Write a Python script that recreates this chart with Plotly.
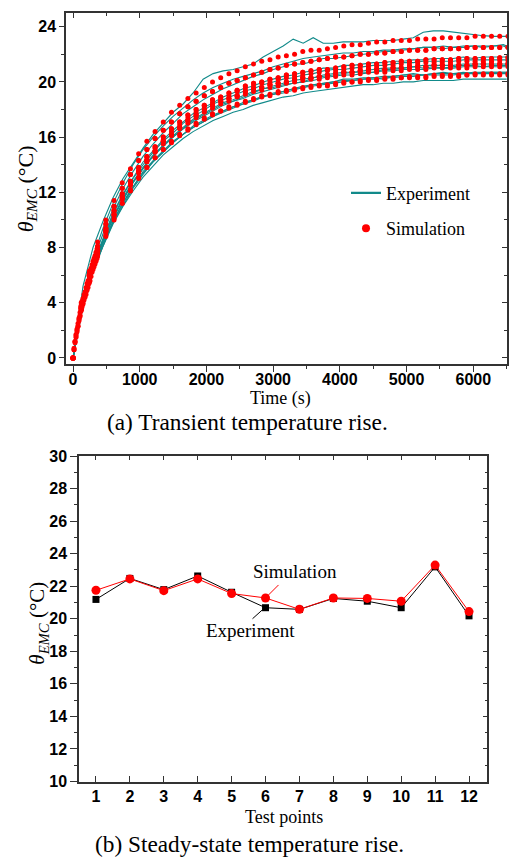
import plotly.graph_objects as go

# ---------------- data: (a) transient temperature rise ----------------
sim_times = list(range(0, 6520, 123))
early_times = list(range(0, 361, 15))
exp_times = list(range(0, 6451, 150)) + [6500]

sim_233 = [0, 4.0, 6.3, 8.4, 10.0, 11.4, 12.7, 13.7, 14.8, 15.7, 16.4, 17.1, 17.8, 18.3, 18.8, 19.2, 19.6, 20.0, 20.3, 20.6,
           20.8, 21.1, 21.3, 21.5, 21.6, 21.8, 21.9, 22.0, 22.2, 22.3, 22.3, 22.4, 22.5, 22.6, 22.7, 22.7, 22.8, 22.9, 22.9, 23.0,
           23.0, 23.0, 23.1, 23.1, 23.1, 23.2, 23.2, 23.2, 23.2, 23.3, 23.3, 23.3, 23.3, 23.3]
sim_225 = [0, 3.8, 6.1, 8.1, 9.7, 11.0, 12.3, 13.3, 14.3, 15.1, 15.9, 16.5, 17.1, 17.7, 18.2, 18.6, 19.0, 19.3, 19.6, 19.9,
           20.1, 20.3, 20.5, 20.7, 20.9, 21.0, 21.2, 21.3, 21.4, 21.5, 21.6, 21.7, 21.8, 21.8, 21.9, 22.0, 22.0, 22.1, 22.1, 22.2,
           22.2, 22.3, 22.3, 22.3, 22.4, 22.4, 22.4, 22.4, 22.5, 22.5, 22.5, 22.5, 22.5, 22.5]
sim_2175 = [0, 3.7, 5.9, 7.8, 9.4, 10.7, 11.9, 12.8, 13.8, 14.6, 15.3, 16.0, 16.6, 17.1, 17.6, 18.0, 18.3, 18.7, 18.9, 19.2,
            19.4, 19.7, 19.9, 20.0, 20.2, 20.3, 20.5, 20.6, 20.7, 20.8, 20.9, 20.9, 21.0, 21.1, 21.2, 21.2, 21.3, 21.3, 21.4, 21.4,
            21.5, 21.5, 21.5, 21.6, 21.6, 21.6, 21.6, 21.7, 21.7, 21.7, 21.7, 21.7, 21.75, 21.75]
sim_2155 = [0, 3.7, 5.8, 7.8, 9.3, 10.6, 11.7, 12.7, 13.7, 14.5, 15.2, 15.8, 16.4, 16.9, 17.4, 17.8, 18.2, 18.5, 18.8, 19.0,
            19.3, 19.5, 19.7, 19.9, 20.0, 20.2, 20.3, 20.4, 20.5, 20.6, 20.7, 20.8, 20.8, 20.9, 21.0, 21.0, 21.1, 21.1, 21.2, 21.2,
            21.3, 21.3, 21.3, 21.4, 21.4, 21.4, 21.4, 21.5, 21.5, 21.5, 21.5, 21.5, 21.55, 21.55]
sim_213 = [0, 3.6, 5.8, 7.7, 9.2, 10.4, 11.6, 12.6, 13.5, 14.3, 15.0, 15.7, 16.2, 16.7, 17.2, 17.6, 18.0, 18.3, 18.6, 18.8,
           19.0, 19.3, 19.5, 19.6, 19.8, 19.9, 20.0, 20.2, 20.3, 20.3, 20.4, 20.5, 20.6, 20.7, 20.7, 20.8, 20.9, 20.9, 20.9, 21.0,
           21.0, 21.1, 21.1, 21.1, 21.2, 21.2, 21.2, 21.2, 21.2, 21.3, 21.3, 21.3, 21.3, 21.3]
sim_211 = [0, 3.6, 5.7, 7.6, 9.1, 10.3, 11.5, 12.5, 13.4, 14.2, 14.9, 15.5, 16.1, 16.6, 17.0, 17.4, 17.8, 18.1, 18.4, 18.6,
           18.9, 19.1, 19.3, 19.4, 19.6, 19.7, 19.9, 20.0, 20.1, 20.2, 20.2, 20.3, 20.4, 20.5, 20.5, 20.6, 20.7, 20.7, 20.7, 20.8,
           20.8, 20.9, 20.9, 20.9, 21.0, 21.0, 21.0, 21.0, 21.0, 21.1, 21.1, 21.1, 21.1, 21.1]
sim_206 = [0, 3.5, 5.6, 7.4, 8.9, 10.1, 11.2, 12.2, 13.1, 13.8, 14.5, 15.1, 15.7, 16.2, 16.6, 17.0, 17.4, 17.7, 17.9, 18.2,
           18.4, 18.6, 18.8, 19.0, 19.1, 19.3, 19.4, 19.5, 19.6, 19.7, 19.8, 19.8, 19.9, 20.0, 20.0, 20.1, 20.2, 20.2, 20.3, 20.3,
           20.3, 20.4, 20.4, 20.4, 20.5, 20.5, 20.5, 20.5, 20.5, 20.6, 20.6, 20.6, 20.6, 20.6]
sim_205 = [0, 3.5, 5.5, 7.4, 8.8, 10.0, 11.2, 12.1, 13.0, 13.8, 14.5, 15.1, 15.6, 16.1, 16.5, 16.9, 17.3, 17.6, 17.9, 18.1,
           18.3, 18.5, 18.7, 18.9, 19.0, 19.2, 19.3, 19.4, 19.5, 19.6, 19.7, 19.7, 19.8, 19.9, 20.0, 20.0, 20.1, 20.1, 20.2, 20.2,
           20.3, 20.3, 20.3, 20.3, 20.4, 20.4, 20.4, 20.4, 20.5, 20.5, 20.5, 20.5, 20.5, 20.5]
sim_curves = [sim_2175, sim_225, sim_2175, sim_225, sim_2155, sim_213,
              sim_206, sim_213, sim_213, sim_211, sim_233, sim_205]

# dense early simulation output (first 6 minutes)
early_hi = [0, 0.7, 1.2, 1.7, 2.1, 2.5, 2.9, 3.3, 3.7, 4.1, 4.3, 4.6, 4.8, 5.1, 5.4, 5.6, 6.0, 6.2, 6.5, 6.75,
            7.0, 7.2, 7.4, 7.65, 7.9]
early_mid = [0, 0.6, 1.2, 1.6, 2.0, 2.3, 2.8, 3.1, 3.5, 3.8, 4.0, 4.4, 4.6, 4.8, 5.1, 5.3, 5.6, 5.9, 6.2, 6.4,
             6.6, 6.8, 7.0, 7.2, 7.5]
early_lo = [0, 0.6, 1.1, 1.5, 1.9, 2.3, 2.7, 3.0, 3.4, 3.7, 3.9, 4.2, 4.4, 4.6, 4.9, 5.1, 5.4, 5.6, 5.9, 6.2,
            6.4, 6.6, 6.8, 7.0, 7.2]
early_curves = [early_hi, early_mid, early_lo]

exp_tp1 = [0, 4.0, 6.6, 8.5, 10.2, 11.5, 12.7, 13.8, 14.6, 15.4, 16.0, 16.6, 17.2, 17.6, 18.0, 18.4, 18.6, 18.9, 19.2, 19.5,
           19.6, 19.8, 19.9, 20.0, 20.3, 20.4, 20.5, 20.6, 20.7, 20.7, 20.7, 20.9, 20.9, 21.0, 21.1, 21.0, 21.1, 21.0, 21.1, 21.2,
           21.2, 21.1, 21.2, 21.2, 21.2]
exp_tp2 = [0, 4.3, 7.0, 9.0, 10.8, 12.3, 13.5, 14.6, 15.5, 16.3, 17.0, 17.7, 18.2, 18.7, 19.1, 19.5, 19.8, 20.1, 20.4, 20.6,
           20.9, 21.1, 21.3, 21.3, 21.5, 21.7, 21.7, 21.8, 21.9, 22.0, 22.1, 22.2, 22.2, 22.3, 22.4, 22.5, 22.5, 22.4, 22.5, 22.5,
           22.6, 22.5, 22.6, 22.6, 22.5]
exp_tp3 = [0, 4.1, 6.8, 8.7, 10.5, 11.9, 13.1, 14.2, 15.0, 15.8, 16.5, 17.1, 17.7, 18.1, 18.5, 18.9, 19.2, 19.5, 19.7, 20.0,
           20.2, 20.4, 20.5, 20.7, 20.8, 21.0, 21.0, 21.2, 21.2, 21.3, 21.4, 21.4, 21.5, 21.5, 21.6, 21.6, 21.7, 21.7, 21.7, 21.8,
           21.7, 21.8, 21.8, 21.8, 21.8]
exp_tp4 = [0, 4.5, 7.3, 9.4, 11.2, 12.7, 14.0, 15.1, 16.0, 16.8, 17.5, 18.1, 18.7, 19.2, 19.6, 19.9, 20.2, 20.4, 20.6, 20.8,
           21.1, 21.3, 21.5, 21.7, 21.8, 21.9, 22.0, 22.1, 22.1, 22.2, 22.2, 22.3, 22.3, 22.4, 22.4, 22.5, 22.5, 22.6, 22.5, 22.6,
           22.6, 22.6, 22.6, 22.7, 22.6]
exp_tp5 = [0, 4.1, 6.7, 8.6, 10.4, 11.8, 13.0, 14.0, 14.9, 15.7, 16.3, 17.0, 17.5, 17.9, 18.4, 18.7, 19.0, 19.3, 19.5, 19.8,
           20.0, 20.2, 20.3, 20.5, 20.6, 20.8, 20.9, 20.9, 21.0, 21.1, 21.2, 21.2, 21.3, 21.4, 21.4, 21.5, 21.5, 21.5, 21.5, 21.6,
           21.6, 21.6, 21.6, 21.6, 21.6]
exp_tp6 = [0, 3.9, 6.4, 8.3, 9.9, 11.3, 12.4, 13.5, 14.3, 15.0, 15.7, 16.2, 16.8, 17.2, 17.6, 17.9, 18.2, 18.5, 18.7, 18.9,
           19.2, 19.3, 19.5, 19.6, 19.8, 19.9, 20.0, 20.1, 20.1, 20.2, 20.3, 20.4, 20.4, 20.5, 20.5, 20.5, 20.6, 20.6, 20.6, 20.6,
           20.7, 20.7, 20.7, 20.7, 20.7]
exp_tp7 = [0, 3.9, 6.4, 8.2, 9.9, 11.2, 12.4, 13.4, 14.2, 14.9, 15.6, 16.2, 16.7, 17.1, 17.5, 17.8, 18.1, 18.4, 18.6, 18.9,
           19.1, 19.2, 19.4, 19.6, 19.7, 19.8, 19.9, 20.0, 20.1, 20.2, 20.2, 20.3, 20.3, 20.4, 20.4, 20.5, 20.5, 20.5, 20.5, 20.6,
           20.6, 20.6, 20.6, 20.6, 20.6]
exp_tp8 = [0, 4.0, 6.6, 8.5, 10.2, 11.6, 12.8, 13.8, 14.7, 15.4, 16.1, 16.7, 17.3, 17.7, 18.1, 18.5, 18.7, 19.0, 19.3, 19.5,
           19.7, 19.9, 20.1, 20.2, 20.3, 20.5, 20.6, 20.7, 20.7, 20.8, 20.9, 21.0, 21.0, 21.0, 21.1, 21.2, 21.2, 21.2, 21.2, 21.3,
           21.3, 21.3, 21.3, 21.3, 21.3]
exp_tp9 = [0, 4.0, 6.5, 8.4, 10.1, 11.5, 12.7, 13.7, 14.6, 15.3, 16.0, 16.6, 17.1, 17.5, 17.9, 18.3, 18.6, 18.8, 19.1, 19.3,
           19.5, 19.7, 19.9, 20.0, 20.1, 20.3, 20.4, 20.5, 20.5, 20.6, 20.7, 20.8, 20.8, 20.9, 20.9, 20.9, 21.0, 21.0, 21.0, 21.1,
           21.1, 21.1, 21.1, 21.1, 21.1]
exp_tp10 = [0, 3.7, 6.2, 8.1, 9.8, 11.1, 12.3, 13.3, 14.2, 14.9, 15.6, 16.2, 16.7, 17.1, 17.5, 17.9, 18.2, 18.4, 18.7, 19.0,
            19.1, 19.3, 19.5, 19.7, 19.8, 19.9, 20.0, 20.2, 20.2, 20.3, 20.3, 20.2, 20.4, 20.5, 20.6, 20.5, 20.6, 20.7, 20.6, 20.7,
            20.6, 20.7, 20.7, 20.7, 20.7]
exp_tp11 = [0, 5.2, 8.0, 9.9, 11.6, 13.0, 14.1, 15.2, 16.2, 17.0, 17.8, 18.4, 19.2, 20.2, 20.6, 20.8, 20.9, 21.1, 21.3, 21.8,
            22.2, 22.6, 23.1, 22.8, 23.2, 22.8, 22.8, 22.9, 22.9, 22.9, 23.0, 23.0, 23.0, 23.1, 23.2, 23.6, 23.7, 23.7, 23.6, 23.5,
            23.4, 23.35, 23.3, 23.3, 23.3]
exp_tp12 = [0, 3.8, 6.3, 8.1, 9.7, 11.0, 12.1, 13.1, 13.9, 14.7, 15.3, 15.9, 16.4, 16.8, 17.2, 17.5, 17.8, 18.0, 18.3, 18.5,
            18.7, 18.9, 19.0, 19.2, 19.3, 19.4, 19.5, 19.6, 19.7, 19.8, 19.8, 19.9, 19.9, 20.0, 20.0, 20.1, 20.1, 20.1, 20.1, 20.2,
            20.2, 20.2, 20.2, 20.2, 20.2]
exp_curves = [exp_tp1, exp_tp2, exp_tp3, exp_tp4, exp_tp5, exp_tp6,
              exp_tp7, exp_tp8, exp_tp9, exp_tp10, exp_tp11, exp_tp12]

# ---------------- data: (b) steady-state temperature rise ----------------
test_points = [1, 2, 3, 4, 5, 6, 7, 8, 9, 10, 11, 12]
steady_exp = [21.19, 22.48, 21.79, 22.63, 21.63, 20.68, 20.58, 21.25, 21.08, 20.68, 23.19, 20.18]
steady_sim = [21.75, 22.45, 21.73, 22.45, 21.55, 21.28, 20.58, 21.28, 21.25, 21.08, 23.30, 20.44]

TEAL = "#118a8a"
RED = "#ff0000"
AX = "#333333"
SANS = "Liberation Sans"
SERIF = "Liberation Serif"
W, H = 510, 867

fig = go.Figure()

for ys in exp_curves:
    fig.add_trace(go.Scatter(x=exp_times, y=ys, mode="lines", line=dict(color=TEAL, width=1.1),
                             showlegend=False, hoverinfo="skip", xaxis="x", yaxis="y"))
for ys in early_curves:
    fig.add_trace(go.Scatter(x=early_times, y=ys, mode="markers", marker=dict(color=RED, size=5),
                             showlegend=False, hoverinfo="skip", xaxis="x", yaxis="y"))
for ys in sim_curves:
    fig.add_trace(go.Scatter(x=sim_times, y=ys, mode="markers", marker=dict(color=RED, size=5),
                             showlegend=False, hoverinfo="skip", xaxis="x", yaxis="y"))
# legend entries
fig.add_trace(go.Scatter(x=[None], y=[None], mode="lines", line=dict(color=TEAL, width=2.2),
                         name="Experiment", legendgroup="e", xaxis="x", yaxis="y"))
fig.add_trace(go.Scatter(x=[None], y=[None], mode="markers", marker=dict(color=RED, size=8),
                         name="Simulation", legendgroup="s", xaxis="x", yaxis="y"))
# overlay axes carriers (no data)
fig.add_trace(go.Scatter(x=[], y=[], showlegend=False, xaxis="x3", yaxis="y3"))
fig.add_trace(go.Scatter(x=[], y=[], showlegend=False, xaxis="x4", yaxis="y4"))
fig.add_trace(go.Scatter(x=[], y=[], showlegend=False, xaxis="x5", yaxis="y"))

# bottom chart
fig.add_trace(go.Scatter(x=test_points, y=steady_exp, mode="lines+markers",
                         line=dict(color="black", width=1), marker=dict(symbol="square", size=7, color="black"),
                         showlegend=False, xaxis="x2", yaxis="y2"))
fig.add_trace(go.Scatter(x=test_points, y=steady_sim, mode="lines+markers",
                         line=dict(color=RED, width=1), marker=dict(symbol="circle", size=9, color=RED),
                         showlegend=False, xaxis="x2", yaxis="y2"))

tickfont = dict(family=SANS, size=16, color="black", weight="bold")

top_x = [66 / W, 507 / W]
top_y = [1 - 363 / H, 1 - 5 / H]
bot_x = [79 / W, 487 / W]
bot_y = [1 - 789 / H, 1 - 457 / H]

xr1 = [-105, 6505]
yr1 = [-0.43, 25.0]
xr2 = [0.5, 12.53]
yr2 = [10, 30]

common = dict(showgrid=False, zeroline=False, tickcolor=AX, tickwidth=1.3)

fig.update_layout(
    width=W, height=H, margin=dict(l=0, r=0, t=0, b=0),
    plot_bgcolor="white", paper_bgcolor="white",
    # labels only (ticks drawn by xaxis5 so the labels sit close to the axis)
    xaxis=dict(domain=top_x, anchor="y", range=xr1, tick0=0, dtick=1000, ticks="",
               showline=True, linecolor=AX, linewidth=1.5, mirror=True, tickfont=tickfont, **common),
    xaxis5=dict(overlaying="x", side="bottom", anchor="y", range=xr1, tick0=0, dtick=1000, ticks="outside", ticklen=7,
                minor=dict(dtick=500, ticks="outside", ticklen=4, tickcolor=AX, tickwidth=1.3),
                showticklabels=False, showline=False, **common),
    yaxis=dict(domain=top_y, anchor="x", range=yr1, tick0=0, dtick=4, ticks="outside", ticklen=5,
               minor=dict(dtick=2, ticks="outside", ticklen=3, tickcolor=AX, tickwidth=1.3),
               showline=True, linecolor=AX, linewidth=1.5, mirror=True, tickfont=tickfont, **common),
    xaxis3=dict(overlaying="x", side="top", anchor="y3", range=xr1, tick0=0, dtick=1000, ticks="inside", ticklen=5,
                minor=dict(dtick=500, ticks="inside", ticklen=3, tickcolor=AX, tickwidth=1.3),
                showticklabels=False, showline=False, **common),
    yaxis3=dict(overlaying="y", side="right", anchor="x3", range=yr1, tick0=0, dtick=4, ticks="inside", ticklen=5,
                minor=dict(dtick=2, ticks="inside", ticklen=3, tickcolor=AX, tickwidth=1.3),
                showticklabels=False, showline=False, **common),
    xaxis2=dict(domain=bot_x, anchor="y2", range=xr2, tick0=1, dtick=1, ticks="inside", ticklen=6,
                showline=True, linecolor=AX, linewidth=1.5, mirror=True, tickfont=tickfont, **common),
    yaxis2=dict(domain=bot_y, anchor="x2", range=yr2, tick0=10, dtick=2, ticks="outside", ticklen=7,
                minor=dict(dtick=1, ticks="outside", ticklen=3, tickcolor=AX, tickwidth=1.3),
                showline=True, linecolor=AX, linewidth=1.5, mirror=True, tickfont=tickfont, **common),
    xaxis4=dict(overlaying="x2", side="top", anchor="y4", range=xr2, tick0=1, dtick=1, ticks="inside", ticklen=4,
                showticklabels=False, showline=False, **common),
    yaxis4=dict(overlaying="y2", side="right", anchor="x4", range=yr2, tick0=10, dtick=2, ticks="inside", ticklen=4,
                minor=dict(dtick=1, ticks="inside", ticklen=2, tickcolor=AX, tickwidth=1.3),
                showticklabels=False, showline=False, **common),
    legend=dict(x=346 / W, y=1 - 170 / H, xanchor="left", yanchor="top", bgcolor="rgba(0,0,0,0)",
                font=dict(family=SERIF, size=18, color="black"), traceorder="grouped", tracegroupgap=9),
)

ytitle = "<i>θ</i><sub><i>EMC</i></sub> (°C)"
ann = [
    dict(x=27 / W, y=1 - 185 / H, text=ytitle, textangle=-90, font=dict(family=SERIF, size=22)),
    dict(x=280 / W, y=1 - 398 / H, text="Time (s)", font=dict(family=SERIF, size=18)),
    dict(x=247 / W, y=1 - 422 / H, text="(a) Transient temperature rise.", font=dict(family=SERIF, size=23.3)),
    dict(x=38 / W, y=1 - 628 / H, text=ytitle, textangle=-90, font=dict(family=SERIF, size=21)),
    dict(x=284 / W, y=1 - 825 / H, text="Test points", font=dict(family=SERIF, size=18)),
    dict(x=249 / W, y=1 - 853 / H, text="(b) Steady-state temperature rise.", font=dict(family=SERIF, size=23.3)),
    dict(x=295 / W, y=1 - 575 / H, text="Simulation", font=dict(family=SERIF, size=19)),
    dict(x=250 / W, y=1 - 635 / H, text="Experiment", font=dict(family=SERIF, size=19)),
]
for a in ann:
    a.update(xref="paper", yref="paper", showarrow=False, xanchor="center", yanchor="middle")
    a["font"]["color"] = "black"
    fig.add_annotation(**a)

# pointer lines (pixel-sized, anchored at the TP6 markers)
fig.add_shape(type="line", xref="x2", yref="y2", xsizemode="pixel", ysizemode="pixel",
              xanchor=test_points[5], yanchor=steady_sim[5], x0=3, y0=3, x1=13, y1=13,
              line=dict(color=RED, width=1))
fig.add_shape(type="line", xref="x2", yref="y2", xsizemode="pixel", ysizemode="pixel",
              xanchor=test_points[5], yanchor=steady_exp[5], x0=-3, y0=-2, x1=-13, y1=-11,
              line=dict(color="black", width=1))

fig.write_html("out.html")
